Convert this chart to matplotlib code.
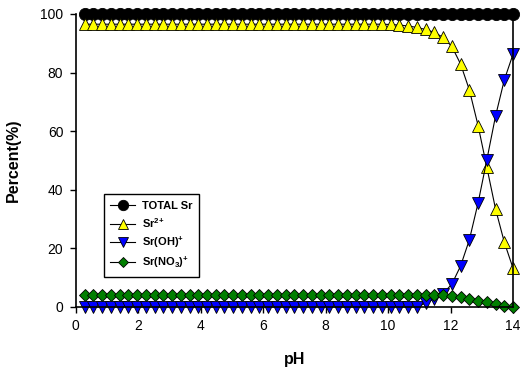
import matplotlib
matplotlib.use("Agg")
import matplotlib.pyplot as plt

plt.rcParams['font.family'] = ['Liberation Sans', 'DejaVu Sans']
plt.rcParams['mathtext.fontset'] = 'custom'
plt.rcParams['mathtext.rm'] = 'Liberation Sans:bold'
plt.rcParams['mathtext.bf'] = 'Liberation Sans:bold'
plt.rcParams['mathtext.default'] = 'bf'

# pH values (50 points)
ph = [0.28, 0.56, 0.84, 1.12, 1.40, 1.68, 1.96, 2.24, 2.52, 2.80,
      3.08, 3.36, 3.64, 3.92, 4.20, 4.48, 4.76, 5.04, 5.32, 5.60,
      5.88, 6.16, 6.44, 6.72, 7.00, 7.28, 7.56, 7.84, 8.12, 8.40,
      8.68, 8.96, 9.24, 9.52, 9.80, 10.08, 10.36, 10.64, 10.92, 11.20,
      11.48, 11.76, 12.04, 12.32, 12.60, 12.88, 13.16, 13.44, 13.72, 14.00]

total_sr = [100.0] * 50

sr2 = [96.5] * 35 + [96.4, 96.2, 95.9, 95.4, 94.7,
                     93.7, 92.0, 88.9, 82.9, 74.1, 61.9, 47.7, 33.4, 22.1, 13.2]

sr_oh = [0.0] * 39 + [1.3, 2.8, 4.6, 7.8, 14.0, 22.9, 35.5, 50.2, 65.2, 77.5, 86.3]

sr_no3 = [4.0] * 42 + [3.8, 3.3, 2.7, 2.1, 1.6, 1.1, 0.2, 0.1]

fig = plt.figure(figsize=(5.23, 3.67), dpi=100)
ax = fig.add_axes([0.145, 0.1635, 0.836, 0.7985])

common = dict(color='black', lw=0.8, mec='black', mew=0.6, clip_on=False)
ax.plot(ph, total_sr, marker='o', ms=8.8, mfc='black', label='TOTAL Sr', **common)
ax.plot(ph, sr2, marker='^', ms=8, mfc='#FFFF00', label='Sr$^{2{+}}$', **common)
ax.plot(ph, sr_oh, marker='v', ms=8, mfc='#0000FF', label='Sr(OH)$^{+}$', **common)
ax.plot(ph, sr_no3, marker='D', ms=6.5, mfc='#007F00', label='Sr(NO$_{3}$)$^{+}$', **common)

ax.set_xlim(0, 14)
ax.set_ylim(0, 100)
ax.set_xticks([0, 2, 4, 6, 8, 10, 12, 14])
ax.set_yticks([0, 20, 40, 60, 80, 100])
ax.tick_params(direction='out', length=4, width=1, labelsize=10, pad=5)
ax.spines['top'].set_visible(False)
for s in ['left', 'bottom', 'right']:
    ax.spines[s].set_linewidth(1.2)

ax.set_xlabel('pH', fontsize=11.5, fontweight='bold', labelpad=13)
ax.set_ylabel('Percent(%)', fontsize=11.5, fontweight='bold', labelpad=14)

leg = ax.legend(loc='lower left', bbox_to_anchor=(0.064, 0.102), borderaxespad=0,
                fancybox=False, edgecolor='black', framealpha=1,
                prop={'weight': 'bold', 'size': 8}, handlelength=2.2,
                borderpad=0.6, labelspacing=0.45, handletextpad=0.6, markerscale=0.85)
leg.get_frame().set_linewidth(1.0)

fig.savefig('out.png', dpi=100)
